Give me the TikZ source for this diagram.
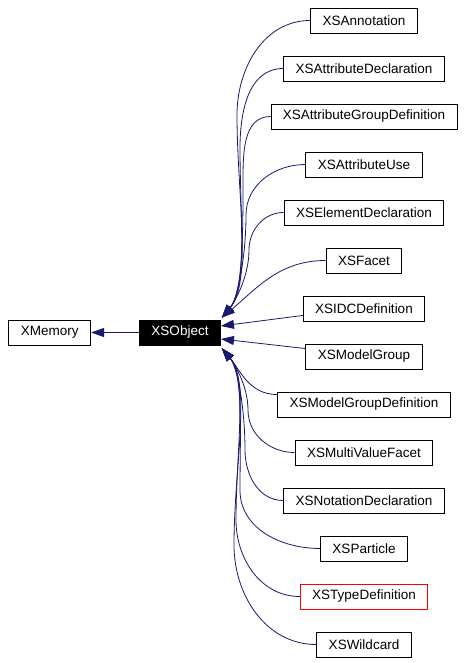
\documentclass[tikz,border=0pt]{standalone}
\usepackage{fontspec}
\setmainfont{Liberation Sans}
\definecolor{EdgeBlue}{HTML}{191970}
\usetikzlibrary{arrows.meta, positioning}
\tikzset{
    class box/.style={
        draw=black, fill=white, line width=0.9pt,
        minimum height=25pt, inner xsep=12pt, inner ysep=0pt,
        font=\fontsize{13.5}{16}\selectfont
    },
    focus box/.style={class box, fill=black, text=white},
    inherit edge/.style={
        draw=EdgeBlue, line width=0.8pt,
        -{Triangle[length=13pt, width=9pt]}
    }
}

\begin{document}
\begin{tikzpicture}[x=1pt, y=1pt]
\useasboundingbox (0,0) rectangle (466,-663);

\node[focus box] (XSObject) at (180,-332.5) {XSObject};
\node[class box, left=48pt of XSObject] (XMemory) {XMemory};

\foreach \name/\boxcolor [count=\i from 0] in {
    XSAnnotation/black, XSAttributeDeclaration/black,
    XSAttributeGroupDefinition/black, XSAttributeUse/black,
    XSElementDeclaration/black, XSFacet/black, XSIDCDefinition/black,
    XSModelGroup/black, XSModelGroupDefinition/black,
    XSMultiValueFacet/black, XSNotationDeclaration/black,
    XSParticle/black, XSTypeDefinition/red, XSWildcard/black}
    \node[class box, draw=\boxcolor] (\name) at (364,{-20.5-48*\i}) {\name};

\coordinate (top tip) at ([shift={(1pt,2pt)}]XSObject.north east);
\coordinate (bottom tip) at ([shift={(1pt,-3pt)}]XSObject.south east);

\draw[inherit edge] (XSObject) -- (XMemory);

% upper children bend down into the top corner
\foreach \name/\wx/\wy in {XSAnnotation/237/115, XSAttributeDeclaration/240/148,
    XSAttributeGroupDefinition/243/182, XSAttributeUse/246/215,
    XSElementDeclaration/249/250}
    \draw[inherit edge] (\name.west) to[out=180, in=90] (\wx,-\wy)
        to[out=-90, in=50, in looseness=0.6] (top tip);
\draw[inherit edge] (XSFacet.west) to[out=180, in=40] (top tip);

\draw[inherit edge] ([yshift=6pt]XSIDCDefinition.south west) -- ([yshift=6.5pt]XSObject.east);
\draw[inherit edge] ([yshift=-5pt]XSModelGroup.north west) -- ([yshift=-6.5pt]XSObject.east);

% lower children bend up into the bottom corner
\draw[inherit edge] ([yshift=-3pt]XSModelGroupDefinition.north west) to[out=180, in=-50] (bottom tip);
\foreach \name/\wx/\wy in {XSMultiValueFacet/248/410, XSNotationDeclaration/245/450,
    XSParticle/240/490, XSTypeDefinition/236/520, XSWildcard/234/545}
    \draw[inherit edge] (\name.west) to[out=180, in=-90] (\wx,-\wy)
        to[out=90, in=-50, in looseness=0.6] (bottom tip);

\end{tikzpicture}
\end{document}
